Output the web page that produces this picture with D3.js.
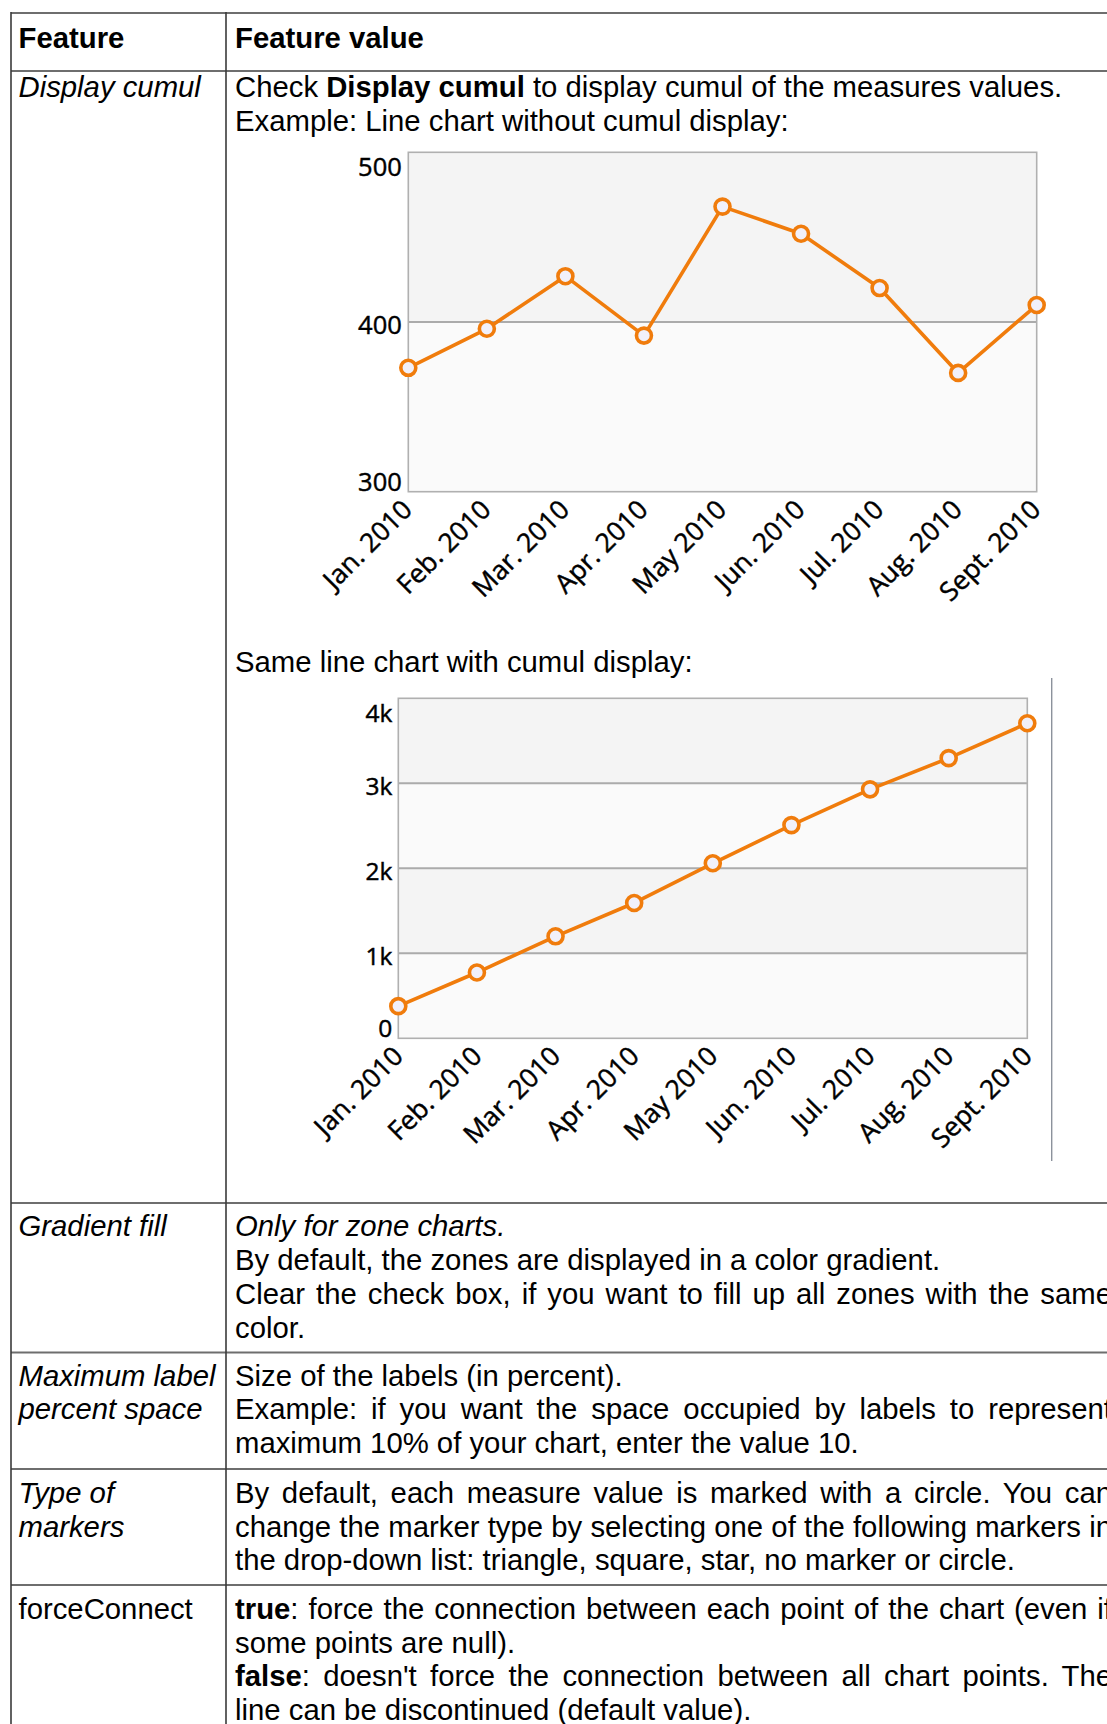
<!DOCTYPE html>
<html><head><meta charset="utf-8">
<script src="https://cdn.jsdelivr.net/npm/d3@7"></script>
<style>body{margin:0;background:#fff} svg{display:block}</style>
</head><body>
<svg id="page" width="1107" height="1724"></svg>
<script>
// ---------- data ----------
const categories = ["Jan. 2010", "Feb. 2010", "Mar. 2010", "Apr. 2010", "May 2010", "Jun. 2010", "Jul. 2010", "Aug. 2010", "Sept. 2010"];
const values = [373, 396, 427, 392, 468, 452, 420, 370, 410];
const cumulValues = [378, 774, 1200, 1592, 2059, 2508, 2929, 3296, 3706];
const yTicks1 = [300, 400, 500];
const yTickLabels1 = ["300", "400", "500"];
const yTicks2 = [0, 1000, 2000, 3000, 4000];
const yTickLabels2 = ["0", "1k", "2k", "3k", "4k"];

const svg = d3.select("#page");
const tableFont = "'Liberation Sans', Arial, sans-serif";
const chartFont = "'Open Sans', 'DejaVu Sans', sans-serif";

// ---------- table grid ----------
const hLines = [13, 71, 1203, 1352.5, 1469, 1585];
svg.selectAll("line.h").data(hLines).join("line")
  .attr("x1", 11).attr("x2", 1110).attr("y1", d => d).attr("y2", d => d)
  .attr("stroke", "#6e6e6e").attr("stroke-width", 2);
[11, 226].forEach(x => svg.append("line").attr("x1", x).attr("x2", x).attr("y1", 12).attr("y2", 1724)
  .attr("stroke", "#3a3a3a").attr("stroke-width", 1.6));

// ---------- table text ----------
const JUST = 1112;
const textLines = [
  {x: 18.5, y: 48, parts: [{t: "Feature", b: 1}]},
  {x: 235, y: 48, parts: [{t: "Feature value", b: 1}]},
  {x: 18.5, y: 97, parts: [{t: "Display cumul", i: 1}]},
  {x: 235, y: 97, parts: [{t: "Check "}, {t: "Display cumul", b: 1}, {t: " to display cumul of the measures values."}]},
  {x: 235, y: 130.5, parts: [{t: "Example: Line chart without cumul display:"}]},
  {x: 235, y: 672, parts: [{t: "Same line chart with cumul display:"}]},
  {x: 18.5, y: 1236, parts: [{t: "Gradient fill", i: 1}]},
  {x: 235, y: 1236, parts: [{t: "Only for zone charts.", i: 1}]},
  {x: 235, y: 1270, parts: [{t: "By default, the zones are displayed in a color gradient."}]},
  {x: 235, y: 1304, parts: [{t: "Clear the check box, if you want to fill up all zones with the same"}], j: 1},
  {x: 235, y: 1337.5, parts: [{t: "color."}]},
  {x: 18.5, y: 1386, parts: [{t: "Maximum label", i: 1}]},
  {x: 18.5, y: 1419, parts: [{t: "percent space", i: 1}]},
  {x: 235, y: 1386, parts: [{t: "Size of the labels (in percent)."}]},
  {x: 235, y: 1419, parts: [{t: "Example: if you want the space occupied by labels to represent"}], j: 1},
  {x: 235, y: 1453, parts: [{t: "maximum 10% of your chart, enter the value 10."}]},
  {x: 18.5, y: 1503, parts: [{t: "Type of", i: 1}]},
  {x: 18.5, y: 1536.5, parts: [{t: "markers", i: 1}]},
  {x: 235, y: 1503, parts: [{t: "By default, each measure value is marked with a circle. You can"}], j: 1},
  {x: 235, y: 1536.5, parts: [{t: "change the marker type by selecting one of the following markers in"}], j: 1},
  {x: 235, y: 1570, parts: [{t: "the drop-down list: triangle, square, star, no marker or circle."}]},
  {x: 18.5, y: 1619, parts: [{t: "forceConnect"}]},
  {x: 235, y: 1619, parts: [{t: "true", b: 1}, {t: ": force the connection between each point of the chart (even if"}], j: 1},
  {x: 235, y: 1652.5, parts: [{t: "some points are null)."}]},
  {x: 235, y: 1686, parts: [{t: "false", b: 1}, {t: ": doesn't force the connection between all chart points. The"}], j: 1},
  {x: 235, y: 1719.5, parts: [{t: "line can be discontinued (default value)."}]}
];
textLines.forEach(L => {
  const t = svg.append("text").attr("x", L.x).attr("y", L.y)
    .attr("font-family", tableFont).attr("font-size", 29.3).attr("fill", "#000")
    .style("white-space", "pre");
  L.parts.forEach(p => t.append("tspan").text(p.t)
    .attr("font-weight", p.b ? "bold" : "normal")
    .attr("font-style", p.i ? "italic" : "normal"));
  if (L.j) {
    const nat = t.node().getComputedTextLength();
    const spaces = L.parts.map(p => p.t).join("").split(" ").length - 1;
    t.attr("word-spacing", (JUST - L.x - nat) / spaces);
  }
});

// ---------- charts ----------
function drawChart(o) {
  const g = svg.append("g");
  const x = d3.scalePoint().domain(categories).range([o.left, o.right]).padding(0);
  const y = d3.scaleLinear().domain(o.domain).range([o.bottom, o.top]);
  for (let i = 0; i < o.ticks.length - 1; i++) {
    g.append("rect").attr("x", o.left).attr("width", o.right - o.left)
      .attr("y", y(o.ticks[i + 1])).attr("height", y(o.ticks[i]) - y(o.ticks[i + 1]))
      .attr("fill", i % 2 === 0 ? "#fafafa" : "#f4f4f4");
  }
  g.selectAll("line.grid").data(o.ticks.slice(1, -1)).join("line")
    .attr("x1", o.left).attr("x2", o.right).attr("y1", d => y(d)).attr("y2", d => y(d))
    .attr("stroke", "#ababab").attr("stroke-width", 2);
  g.append("rect").attr("x", o.left).attr("y", o.top).attr("width", o.right - o.left)
    .attr("height", o.bottom - o.top).attr("fill", "none").attr("stroke", "#b0b0b0").attr("stroke-width", 1.6);
  g.selectAll("text.yl").data(o.ticks).join("text")
    .attr("x", o.left - o.ylGap)
    .attr("y", d => Math.max(o.top + o.topOff, Math.min(o.bottom - o.botOff, y(d) + 3)))
    .attr("dy", "0.35em").attr("text-anchor", "end")
    .attr("font-family", chartFont).attr("font-size", o.ylSize).attr("fill", "#000")
    .attr("stroke", "#000").attr("stroke-width", 0.45)
    .text((d, i) => o.tickLabels[i]);
  g.selectAll("text.xl").data(categories).join("text")
    .attr("transform", d => `translate(${x(d) + o.xlDx},${o.bottom + o.xlDy}) rotate(-45)`)
    .attr("text-anchor", "end")
    .attr("font-family", chartFont).attr("font-size", o.xlSize).attr("fill", "#000")
    .attr("stroke", "#000").attr("stroke-width", 0.45)
    .text(d => d);
  const line = d3.line().x((d, i) => x(categories[i])).y(d => y(d));
  g.append("path").attr("d", line(o.data)).attr("fill", "none")
    .attr("stroke", "#f07c0c").attr("stroke-width", 3.6).attr("stroke-linejoin", "round");
  g.selectAll("circle").data(o.data).join("circle")
    .attr("cx", (d, i) => x(categories[i])).attr("cy", d => y(d)).attr("r", 7.5)
    .attr("fill", "#f1f0fa").attr("stroke", "#f07c0c").attr("stroke-width", 3.6);
}

drawChart({left: 408.3, right: 1036.7, top: 152.3, bottom: 491.7, domain: [300, 500],
  ticks: yTicks1, tickLabels: yTickLabels1, data: values,
  ylGap: 6.5, ylSize: 25.5, topOff: 14.4, botOff: 10, xlDx: 5.5, xlDy: 19.5, xlSize: 26.5});

drawChart({left: 398.3, right: 1027.3, top: 698.3, bottom: 1038.3, domain: [0, 4000],
  ticks: yTicks2, tickLabels: yTickLabels2, data: cumulValues,
  ylGap: 6, ylSize: 24.5, topOff: 15.5, botOff: 10, xlDx: 6.5, xlDy: 19.5, xlSize: 26.5});

svg.append("line").attr("x1", 1051.7).attr("x2", 1051.7).attr("y1", 678).attr("y2", 1161)
  .attr("stroke", "#8c929c").attr("stroke-width", 1.4);
</script>
</body></html>
